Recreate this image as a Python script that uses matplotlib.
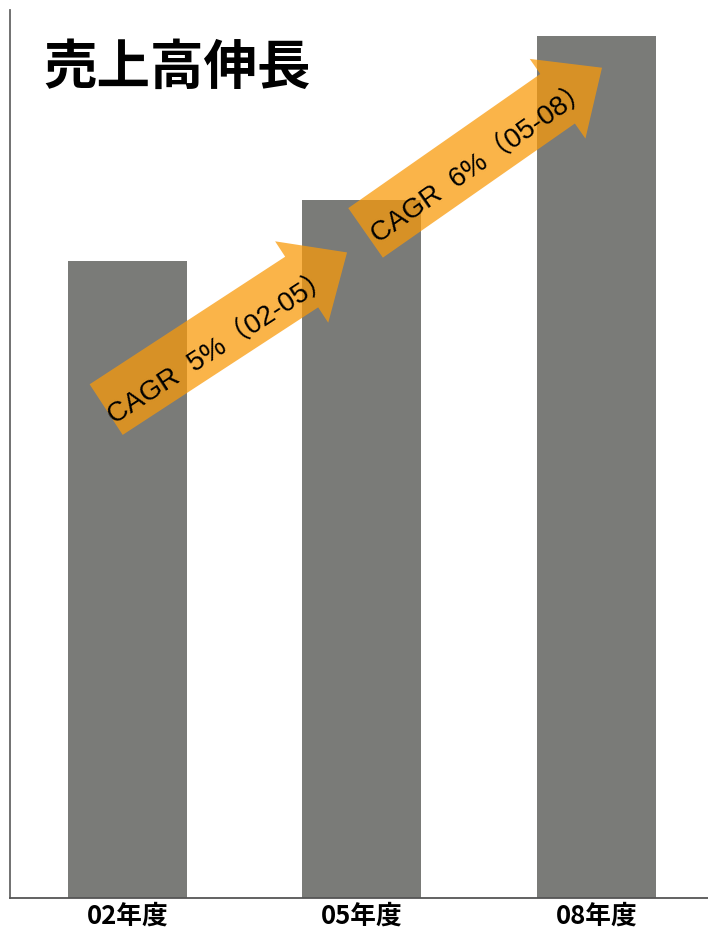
import matplotlib.pyplot as plt
from matplotlib.patches import FancyArrowPatch, ArrowStyle

# data (arbitrary units, axis has no scale)
years = ['02年度', '05年度', '08年度']
sales = [71.7, 78.6, 97.1]

# growth arrows: (start x, start y, end x, end y) in data units, label
cagr_arrows = [
    (-0.09, 55.0, 0.937, 72.7),
    (1.016, 74.9, 2.024, 93.5),
]
cagr_labels = ['CAGR  5%（02-05）', 'CAGR  6%（05-08）']
label_pos = [(0.40, 62.0), (1.51, 82.8)]
label_rot = [33, 35]

plt.rcParams['font.family'] = ['Noto Sans CJK JP', 'DejaVu Sans']

fig = plt.figure(figsize=(7.08, 9.32), dpi=100)
ax = fig.add_axes([10 / 708, 34 / 932, 698 / 708, 888 / 932])

x = list(range(len(years)))
ax.bar(x, sales, width=0.507, color='#7a7b78', zorder=1)

ax.set_xlim(-0.5, 2.476)
ax.set_ylim(0, 100)
ax.set_xticks(x)
ax.set_xticklabels(years, fontsize=18.5, fontweight='bold')
ax.tick_params(axis='x', length=0, pad=3)
ax.set_yticks([])

for s in ['top', 'right']:
    ax.spines[s].set_visible(False)
ax.spines['left'].set_color('#666666')
ax.spines['left'].set_linewidth(1.3)
ax.spines['bottom'].set_color('#555555')
ax.spines['bottom'].set_linewidth(1.3)

# arrow shape in points (tail ~61px, head ~98px wide, ~55px long)
style = ArrowStyle.Simple(head_length=39, head_width=70, tail_width=43.5)
for (x0, y0, x1, y1) in cagr_arrows:
    arr = FancyArrowPatch((x0, y0), (x1, y1), arrowstyle=style,
                          mutation_scale=1, shrinkA=0, shrinkB=0,
                          facecolor='#f99a0a', edgecolor='none',
                          alpha=0.74, zorder=3)
    ax.add_patch(arr)

for lab, (tx, ty), rot in zip(cagr_labels, label_pos, label_rot):
    ax.text(tx, ty, lab, rotation=rot, rotation_mode='anchor',
            ha='center', va='center', fontsize=20, color='black',
            family=['Liberation Sans', 'Noto Sans CJK JP'], zorder=4)

fig.text(43 / 708, 1 - 68 / 932, '売上高伸長', fontsize=38.5,
         fontweight='bold', ha='left', va='center')

fig.savefig('out.png', dpi=100)
